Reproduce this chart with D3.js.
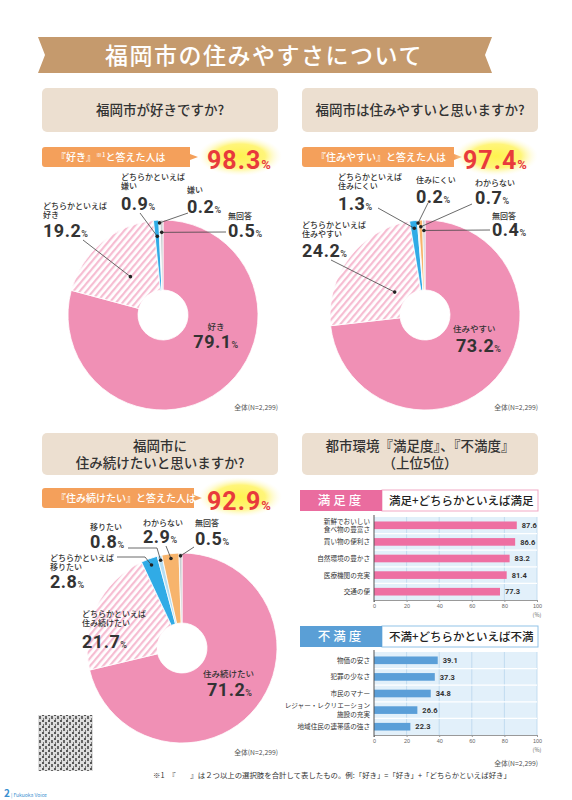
<!DOCTYPE html>
<html>
<head>
<meta charset="utf-8">
<script src="https://cdn.jsdelivr.net/npm/d3@7"></script>
<style>
  body { margin: 0; background: #fff; }
  svg { display: block; font-family: "Noto Sans CJK JP", "Noto Sans", sans-serif; }
  .num { font-family: Roboto, "DejaVu Sans", sans-serif; font-weight: 700; }
</style>
</head>
<body>
<div id="chart"></div>
<script>
// ---- data ----
var likeCats = ["好き", "どちらかといえば好き", "どちらかといえば嫌い", "嫌い", "無回答"];
var likeValues = [79.1, 19.2, 0.9, 0.2, 0.5];
var likeKinds = ["main", "stripe", "blue", "light", "gray"];

var easyCats = ["住みやすい", "どちらかといえば住みやすい", "どちらかといえば住みにくい", "住みにくい", "わからない", "無回答"];
var easyValues = [73.2, 24.2, 1.3, 0.2, 0.7, 0.4];
var easyKinds = ["main", "stripe", "blue", "light", "orange", "gray"];

var stayCats = ["住み続けたい", "どちらかといえば住み続けたい", "どちらかといえば移りたい", "移りたい", "わからない", "無回答"];
var stayValues = [71.2, 21.7, 2.8, 0.8, 2.9, 0.5];
var stayKinds = ["main", "stripe", "blue", "light", "orange", "gray"];

var totals = [98.3, 97.4, 92.9];

var satCats = ["新鮮でおいしい\n食べ物の豊富さ", "買い物の便利さ", "自然環境の豊かさ", "医療機関の充実", "交通の便"];
var satValues = [87.6, 86.6, 83.2, 81.4, 77.3];
var disCats = ["物価の安さ", "犯罪の少なさ", "市民のマナー", "レジャー・レクリエーション\n施設の充実", "地域住民の連帯感の強さ"];
var disValues = [39.1, 37.3, 34.8, 26.6, 22.3];
var axisTicks = [0, 20, 40, 60, 80, 100];

var colors = { main: "#f090b5", stripe: "url(#stripes)", blue: "#30abe6", light: "#b5def3", orange: "#f7b46c", gray: "#c9cdd1" };

var svg = d3.select('#chart').append('svg')
    .attr('width', 572)
    .attr('height', 800);

var defs = svg.append('defs');
var pat = defs.append('pattern')
    .attr('id', 'stripes')
    .attr('patternUnits', 'userSpaceOnUse')
    .attr('width', 5).attr('height', 5)
    .attr('patternTransform', 'rotate(40)');
pat.append('rect').attr('width', 5).attr('height', 5).attr('fill', '#fff');
pat.append('rect').attr('width', 2.2).attr('height', 5).attr('fill', '#f6bdd2');

var glow = defs.append('radialGradient').attr('id', 'glow');
glow.append('stop').attr('offset', '0%').attr('stop-color', '#fff34f');
glow.append('stop').attr('offset', '60%').attr('stop-color', '#fff57a');
glow.append('stop').attr('offset', '100%').attr('stop-color', '#fffbe0').attr('stop-opacity', 0);

var qr = defs.append('pattern')
    .attr('id', 'qr')
    .attr('patternUnits', 'userSpaceOnUse')
    .attr('width', 6).attr('height', 6);
qr.append('rect').attr('width', 6).attr('height', 6).attr('fill', '#ddd');
qr.append('rect').attr('width', 2).attr('height', 2).attr('fill', '#555');
qr.append('rect').attr('x', 3).attr('y', 2).attr('width', 2).attr('height', 3).attr('fill', '#666');
qr.append('rect').attr('x', 1).attr('y', 4).attr('width', 1).attr('height', 2).attr('fill', '#777');

// ---- title ribbon ----
svg.append('path')
    .attr('d', 'M38,37 L492,37 L485,55 L492,73 L38,73 L45,55 Z')
    .attr('fill', '#c59a6d');
svg.append('text')
    .attr('x', 264).attr('y', 64)
    .attr('text-anchor', 'middle')
    .attr('fill', '#fff')
    .attr('font-size', 23)
    .attr('letter-spacing', 1.5)
    .attr('font-weight', 500)
    .text('福岡市の住みやすさについて');

// ---- panel header boxes ----
function headerBox(x, y, h, lines) {
    svg.append('rect')
        .attr('x', x).attr('y', y).attr('width', 236).attr('height', h)
        .attr('rx', 5).attr('fill', '#ecdfd0');
    var lh = 17;
    var y0 = y + h / 2 + 5 - (lines.length - 1) * lh / 2;
    lines.forEach(function (t, i) {
        svg.append('text')
            .attr('x', x + 118).attr('y', y0 + i * lh)
            .attr('text-anchor', 'middle')
            .attr('font-size', 13.5)
            .attr('font-weight', 500)
            .attr('fill', '#333')
            .text(t);
    });
}
headerBox(42, 88, 44, ['福岡市が好きですか?']);
headerBox(302, 88, 44, ['福岡市は住みやすいと思いますか?']);
headerBox(42, 433, 42, ['福岡市に', '住み続けたいと思いますか?']);
headerBox(302, 433, 42, ['都市環境『満足度』、『不満度』', '（上位5位）']);

// ---- orange tag + big total ----
function tag(x, y, w, text, total, numX) {
    svg.append('path')
        .attr('d', 'M' + (x + 3) + ',' + y + ' L' + (x + w) + ',' + y +
              ' L' + (x + w) + ',' + (y + 7) + ' L' + (x + w + 8) + ',' + (y + 10) +
              ' L' + (x + w) + ',' + (y + 13) + ' L' + (x + w) + ',' + (y + 20) +
              ' L' + (x + 3) + ',' + (y + 20) + ' Q' + x + ',' + (y + 20) + ' ' + x + ',' + (y + 17) +
              ' L' + x + ',' + (y + 3) + ' Q' + x + ',' + y + ' ' + (x + 3) + ',' + y + ' Z')
        .attr('fill', '#f4a05b');
    var t = svg.append('text')
        .attr('x', x + 14).attr('y', y + 14)
        .attr('font-size', 10)
        .attr('font-weight', 500)
        .attr('fill', '#fff');
    text.forEach(function (p) {
        var s = t.append('tspan').text(p.t);
        if (p.sup) s.attr('font-size', 6).attr('dy', -4);
        if (p.back) s.attr('dy', 4);
    });
    svg.append('ellipse')
        .attr('cx', numX + 33).attr('cy', y + 9)
        .attr('rx', 42).attr('ry', 20)
        .attr('fill', 'url(#glow)');
    var n = svg.append('text')
        .attr('class', 'num')
        .attr('x', numX).attr('y', y + 22)
        .attr('fill', '#e83a3c')
        .attr('letter-spacing', 1)
        .attr('font-size', 25);
    n.append('tspan').text(total.toFixed(1));
    n.append('tspan').attr('font-size', 13).text('%');
}
tag(42, 147, 148, [{ t: '『好き』' }, { t: '※1', sup: true }, { t: 'と答えた人は', back: true }], totals[0], 207);
tag(302, 147, 152, [{ t: '『住みやすい』と答えた人は' }], totals[1], 463);
tag(42, 488, 152, [{ t: '『住み続けたい』と答えた人は' }], totals[2], 207);

// ---- pies ----
var R = 95, r0 = 25;
var pie = d3.pie().sort(null).value(function (d) { return d; });
var arc = d3.arc().innerRadius(r0).outerRadius(R);

function percentText(x, y, v, size, anchor) {
    var t = svg.append('text')
        .attr('class', 'num')
        .attr('x', x).attr('y', y)
        .attr('fill', '#333')
        .attr('letter-spacing', 0.5)
        .attr('text-anchor', anchor || 'start')
        .attr('font-size', size);
    t.append('tspan').text(v.toFixed(1));
    t.append('tspan').attr('font-size', size * 0.5).attr('font-weight', 500).text('%');
}

function smallText(x, y, lines, size, anchor) {
    lines.forEach(function (l, i) {
        svg.append('text')
            .attr('x', x).attr('y', y + i * (size + 1.3))
            .attr('font-size', size)
            .attr('font-weight', 500)
            .attr('text-anchor', anchor || 'start')
            .attr('fill', '#333')
            .text(l);
    });
}

function drawPie(cx, cy, values, kinds, labels) {
    var g = svg.append('g').attr('transform', 'translate(' + cx + ',' + cy + ')');
    var arcs = pie(values);
    g.selectAll('path')
        .data(arcs)
        .enter().append('path')
        .attr('d', arc)
        .attr('fill', function (d, i) { return colors[kinds[i]]; })
        .attr('stroke', '#fff')
        .attr('stroke-width', 0.8);

    labels.forEach(function (lb) {
        var a = arcs[lb.i];
        var ang = (a.startAngle + a.endAngle) / 2;
        var rr = R * lb.r;
        var dx = cx + rr * Math.sin(ang), dy = cy - rr * Math.cos(ang);
        if (lb.line) {
            var pts = lb.line.concat([[dx, dy]]);
            svg.append('path')
                .attr('d', d3.line()(pts))
                .attr('fill', 'none')
                .attr('stroke', '#444')
                .attr('stroke-width', 0.8);
            svg.append('circle')
                .attr('cx', dx).attr('cy', dy).attr('r', 1.8)
                .attr('fill', '#222');
        }
        smallText(lb.x, lb.y, lb.text, lb.fs || 8, lb.anchor);
        percentText(lb.nx !== undefined ? lb.nx : lb.x, lb.ny, values[lb.i], lb.size || 18, lb.anchor);
    });
}

drawPie(163, 315, likeValues, likeKinds, [
    { i: 0, x: 216, y: 330, text: ['好き'], ny: 348, size: 18, anchor: 'middle', fs: 8.5 },
    { i: 1, x: 43, y: 209, text: ['どちらかといえば', '好き'], ny: 237, r: 0.53, line: [[83, 240]] },
    { i: 2, x: 121, y: 180, text: ['どちらかといえば', '嫌い'], ny: 210, r: 0.83, line: [[140, 213]] },
    { i: 3, x: 187, y: 193, text: ['嫌い'], ny: 213, r: 0.97, line: [[188, 213]] },
    { i: 4, x: 228, y: 219, text: ['無回答'], ny: 237, r: 0.87, line: [[226, 232]] }
]);

drawPie(425, 315, easyValues, easyKinds, [
    { i: 0, x: 453, y: 332, text: ['住みやすい'], ny: 352, nx: 456, size: 18, fs: 8.5 },
    { i: 1, x: 302, y: 228, text: ['どちらかといえば', '住みやすい'], ny: 257, r: 0.4, line: [[331, 260]] },
    { i: 2, x: 338, y: 180, text: ['どちらかといえば', '住みにくい'], ny: 210, r: 0.92, line: [[378, 208]] },
    { i: 3, x: 416, y: 183, text: ['住みにくい'], ny: 203, r: 0.97, line: [[428, 203]] },
    { i: 4, x: 475, y: 186, text: ['わからない'], ny: 204, r: 0.93, line: [[472, 204]] },
    { i: 5, x: 492, y: 219, text: ['無回答'], ny: 236, r: 0.89, line: [[490, 230]] }
]);

drawPie(182, 648, stayValues, stayKinds, [
    { i: 0, x: 203, y: 677, text: ['住み続けたい'], ny: 696, nx: 207, size: 18, fs: 8.5 },
    { i: 1, x: 82, y: 617, text: ['どちらかといえば', '住み続けたい'], ny: 648, size: 18 },
    { i: 2, x: 50, y: 561, text: ['どちらかといえば', '移りたい'], ny: 588, r: 0.93, line: [[117, 557], [145, 557]] },
    { i: 3, x: 90, y: 530, text: ['移りたい'], ny: 548, r: 0.95, line: [[128, 548], [157, 548]] },
    { i: 4, x: 143, y: 526, text: ['わからない'], ny: 543, r: 0.95, line: [[166, 546]] },
    { i: 5, x: 195, y: 526, text: ['無回答'], ny: 545, r: 0.97, line: [[194, 547]] }
]);

// N labels
function nLabel(x, y) {
    svg.append('text')
        .attr('x', x).attr('y', y)
        .attr('text-anchor', 'end')
        .attr('font-size', 6.8)
        .attr('fill', '#555')
        .text('全体(N=2,299)');
}
nLabel(278, 410);
nLabel(538, 410);
nLabel(278, 755);
nLabel(538, 766);

// QR code placeholder
svg.append('rect')
    .attr('x', 38).attr('y', 715).attr('width', 55).attr('height', 56)
    .attr('fill', 'url(#qr)');

// ---- bar charts ----
var x = d3.scaleLinear().domain([0, 100]).range([374, 537]);

function barHeader(y, color, border, title, sub) {
    svg.append('rect')
        .attr('x', 382).attr('y', y).attr('width', 156).attr('height', 21)
        .attr('fill', '#fff').attr('stroke', border).attr('stroke-width', 1);
    svg.append('rect')
        .attr('x', 300).attr('y', y).attr('width', 82).attr('height', 21)
        .attr('fill', color);
    svg.append('text')
        .attr('x', 341).attr('y', y + 15)
        .attr('text-anchor', 'middle')
        .attr('font-size', 12.5)
        .attr('font-weight', 500)
        .attr('letter-spacing', 3)
        .attr('fill', '#fff')
        .text(title);
    svg.append('text')
        .attr('x', 389).attr('y', y + 15)
        .attr('font-size', 11.5)
        .attr('font-weight', 500)
        .attr('fill', '#222')
        .text(sub);
}

function barChart(y0, y1, cats, values, color) {
    var y = d3.scaleBand().domain(cats).range([y0, y1]);
    var g = svg.append('g');
    g.append('rect')
        .attr('x', x(0)).attr('y', y0)
        .attr('width', x(100) - x(0)).attr('height', y1 - y0)
        .attr('fill', '#e2f0fa');
    g.selectAll('.grid')
        .data(axisTicks.slice(1))
        .enter().append('line')
        .attr('x1', function (d) { return x(d); })
        .attr('x2', function (d) { return x(d); })
        .attr('y1', y0).attr('y2', y1)
        .attr('stroke', '#b9d6ec').attr('stroke-width', 0.8);
    g.selectAll('.sep')
        .data(cats.slice(1))
        .enter().append('line')
        .attr('x1', x(0)).attr('x2', x(100))
        .attr('y1', function (d) { return y(d); })
        .attr('y2', function (d) { return y(d); })
        .attr('stroke', '#fff').attr('stroke-width', 1.2);
    var bh = y.bandwidth() * 0.46;
    g.selectAll('.bar')
        .data(values)
        .enter().append('rect')
        .attr('x', x(0))
        .attr('y', function (d, i) { return y(cats[i]) + (y.bandwidth() - bh) / 2; })
        .attr('width', function (d) { return x(d) - x(0); })
        .attr('height', bh)
        .attr('fill', color);
    g.selectAll('.val')
        .data(values)
        .enter().append('text')
        .attr('class', 'num')
        .attr('x', function (d) { return x(d) + 5; })
        .attr('y', function (d, i) { return y(cats[i]) + y.bandwidth() / 2 + 2.7; })
        .attr('font-size', 7.5)
        .attr('fill', '#333')
        .text(function (d) { return d.toFixed(1); });
    cats.forEach(function (c) {
        var lines = c.split('\n');
        var cy = y(c) + y.bandwidth() / 2 + 2.4 - (lines.length - 1) * 4.2;
        lines.forEach(function (l, i) {
            g.append('text')
                .attr('x', 370).attr('y', cy + i * 8.4)
                .attr('text-anchor', 'end')
                .attr('font-size', 6.6)
                .attr('fill', '#333')
                .text(l);
        });
    });
    var ax = g.append('g')
        .attr('transform', 'translate(0,' + y1 + ')')
        .call(d3.axisBottom(x).tickValues(axisTicks).tickSize(2).tickSizeOuter(0));
    ax.select('.domain').attr('stroke', '#999');
    ax.selectAll('.tick line').attr('stroke', '#999');
    ax.selectAll('.tick text').attr('font-size', 5.5).attr('fill', '#666').attr('dy', '0.6em');
    g.append('line')
        .attr('x1', x(0)).attr('x2', x(0))
        .attr('y1', y0 - 2).attr('y2', y1 + 2)
        .attr('stroke', '#555').attr('stroke-width', 1);
    g.append('text')
        .attr('x', x(100)).attr('y', y1 + 17)
        .attr('text-anchor', 'middle')
        .attr('font-size', 5.5)
        .attr('fill', '#666')
        .text('(%)');
}

barHeader(490, '#ea6c9f', '#f2a9c5', '満足度', '満足+どちらかといえば満足');
barChart(517, 600, satCats, satValues, '#ee6fa2');
barHeader(626, '#5a9fd6', '#92c3e8', '不満度', '不満+どちらかといえば不満');
barChart(652, 735, disCats, disValues, '#5b9fd8');

// ---- footnote ----
svg.append('text')
    .attr('x', 153).attr('y', 778)
    .attr('font-size', 7.4)
    .attr('fill', '#333')
    .text('※1　『　　』は２つ以上の選択肢を合計して表したもの。例:「好き」=「好き」+「どちらかといえば好き」');

var pg = svg.append('text').attr('x', 4).attr('y', 797).attr('fill', '#3a8fd0');
pg.append('tspan').attr('font-size', 10).attr('font-weight', 700).text('2');
pg.append('tspan').attr('font-size', 5).attr('dx', 1).text('| Fukuoka Voice');
</script>
</body>
</html>
